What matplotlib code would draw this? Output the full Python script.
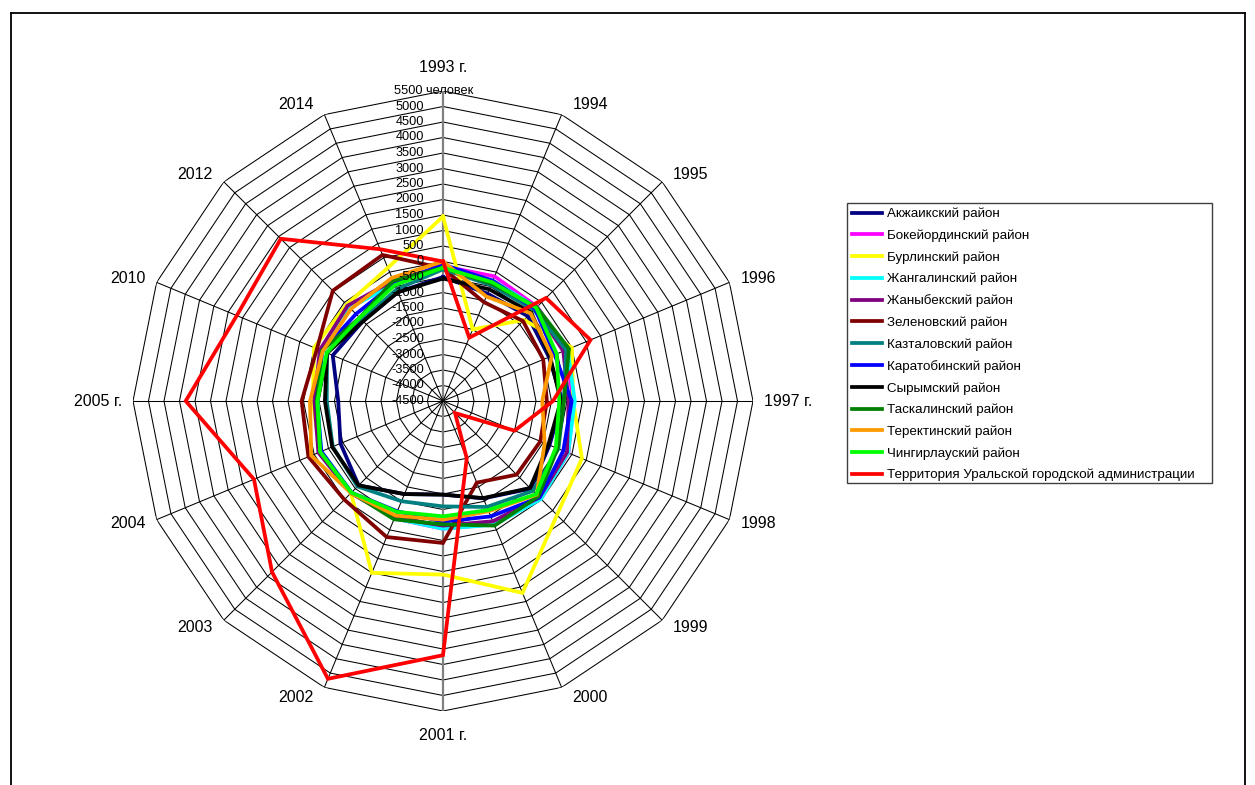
import numpy as np
import matplotlib
matplotlib.use("Agg")
import matplotlib.pyplot as plt
from matplotlib.lines import Line2D
from matplotlib.patches import Rectangle

plt.rcParams['font.family'] = ['Liberation Sans', 'DejaVu Sans']

categories = ['1993 г.', '1994', '1995', '1996', '1997 г.', '1998', '1999', '2000',
              '2001 г.', '2002', '2003', '2004', '2005 г.', '2010', '2012', '2014']

akzhaik   = [-500, -750, -630, -800, -650, -780, -500, -1100, -1480, -1250, -650, -920, -1120, -650, -850, -700]
bokei     = [-150, -150, -200, -200, -300, -120, -50, -200, -380, -400, -320, -200, -400, -250, -200, -350]
burlin    = [1450, -2000, -800, 0, -300, 350, 700, 2200, 1100, 1500, -300, -200, -300, 0, -100, 150]
zhangal   = [-150, -300, -230, -150, -250, -130, -30, -180, -380, -400, -330, -250, -450, -300, -250, -400]
zhanybek  = [-150, -350, -280, -300, -450, -170, -100, -300, -480, -420, -300, -150, -350, -200, -150, -300]
zelenov   = [-220, -1050, -850, -1000, -1150, -1100, -1140, -1650, 80, 250, 0, 200, 60, -100, 530, 600]
kaztal    = [-250, -450, -350, -200, -600, -470, -400, -800, -1100, -1000, -600, -650, -750, -450, -800, -600]
karatobe  = [-100, -300, -300, -600, -350, -300, -100, -470, -610, -650, -320, -250, -430, -280, -530, -400]
syrym     = [-550, -600, -470, -760, -700, -820, -530, -1110, -1480, -1250, -650, -630, -690, -450, -860, -700]
taskala   = [-200, -400, -220, -100, -600, -500, -150, -150, -520, -370, -320, -210, -430, -270, -700, -300]
terekti   = [0, -850, -500, -700, -1300, -950, -225, -650, -670, -500, -300, 100, -210, -300, -300, -200]
chingir   = [-200, -350, -250, -530, -750, -560, -250, -690, -780, -630, -320, -210, -450, -440, -700, -450]
uralsk    = [0, -2290, 200, 650, -950, -2000, -3950, -2500, 3700, 5200, 3300, 2100, 3800, 2700, 2900, 800]

series_names = ['Акжаикский район', 'Бокейординский район', 'Бурлинский район',
                'Жангалинский район', 'Жаныбекский район', 'Зеленовский район',
                'Казталовский район', 'Каратобинский район', 'Сырымский район',
                'Таскалинский район', 'Теректинский район', 'Чингирлауский район',
                'Территория Уральской городской администрации']
series_values = [akzhaik, bokei, burlin, zhangal, zhanybek, zelenov, kaztal,
                 karatobe, syrym, taskala, terekti, chingir, uralsk]
series_colors = ['#000080', '#FF00FF', '#FFFF00', '#00FFFF', '#800080', '#800000',
                 '#008080', '#0000FF', '#000000', '#008000', '#FF9900', '#00FF00', '#FF0000']

rmin, rmax, rstep = -4500, 5500, 500
tick_values = list(range(rmin, rmax + 1, rstep))

W, H = 1255, 785
fig = plt.figure(figsize=(W / 100, H / 100), dpi=100)
cx, cy, R = 443, 401, 310
ax = fig.add_axes([(cx - R) / W, (H - cy - R) / H, 2 * R / W, 2 * R / H], projection='polar')
ax.set_theta_zero_location('N')
ax.set_theta_direction(-1)
ax.set_ylim(rmin, rmax)
ax.grid(False)
ax.set_xticks([])
ax.set_yticks([])
ax.spines['polar'].set_visible(False)
ax.patch.set_visible(False)

n = len(categories)
theta = np.arange(n) * 2 * np.pi / n
theta_c = np.append(theta, theta[0])

# polygon grid
for lv in tick_values[1:]:
    ax.plot(theta_c, [lv] * (n + 1), color='black', lw=0.75, zorder=1)
# spokes
for t in theta:
    vertical = abs(t) < 1e-9 or abs(t - np.pi) < 1e-9
    ax.plot([t, t], [rmin, rmax], color='#808080' if vertical else 'black',
            lw=1.6 if vertical else 0.75, zorder=1.5)

# series
for name, vals, col in zip(series_names, series_values, series_colors):
    v = list(vals) + [vals[0]]
    ax.plot(theta_c, v, color=col, lw=2.7, label=name, zorder=3, solid_joinstyle='miter')

# radial tick labels
for v in tick_values:
    if v == rmax:
        ax.annotate(f'{v} человек', xy=(0, v), xytext=(-49, 0), textcoords='offset pixels',
                    ha='left', va='center', fontsize=9.2, zorder=5)
    else:
        ax.annotate(f'{v}', xy=(0, v), xytext=(-19, 0), textcoords='offset pixels',
                    ha='right', va='center', fontsize=9.2, zorder=5)

# category labels
for t, lab in zip(theta, categories):
    s, c = np.sin(t), np.cos(t)
    if abs(s) < 0.1:
        ha = 'center'
        off = (0, 24 * np.sign(c))
    else:
        ha = 'left' if s > 0 else 'right'
        off = (11 * np.sign(s), 11 * c)
    ax.annotate(lab, xy=(t, rmax), xytext=off, textcoords='offset pixels',
                ha=ha, va='center', fontsize=11.5)

# legend
fig.add_artist(Rectangle((847 / W, 1 - 483 / H), (1212 - 847) / W, (483 - 203) / H,
                         transform=fig.transFigure, fill=False, edgecolor='#404040', lw=1.0))
handles = [Line2D([0], [0], color=c, lw=2.7) for c in series_colors]
leg = fig.legend(handles, series_names, loc='upper left',
                 bbox_to_anchor=(847 / W, 1 - 203 / H), fontsize=9.6,
                 frameon=False, handlelength=2.25, handletextpad=0.4,
                 labelspacing=0.69, borderpad=0.35, borderaxespad=0)

# outer frame
for xs, ys in [([11, 11], [13, H + 5]), ([11, 1245], [13, 13]), ([1245, 1245], [13, H + 5])]:
    fig.add_artist(Line2D([x / W for x in xs], [1 - y / H for y in ys], color='black', lw=1.3))

fig.savefig('out.png', dpi=100)
